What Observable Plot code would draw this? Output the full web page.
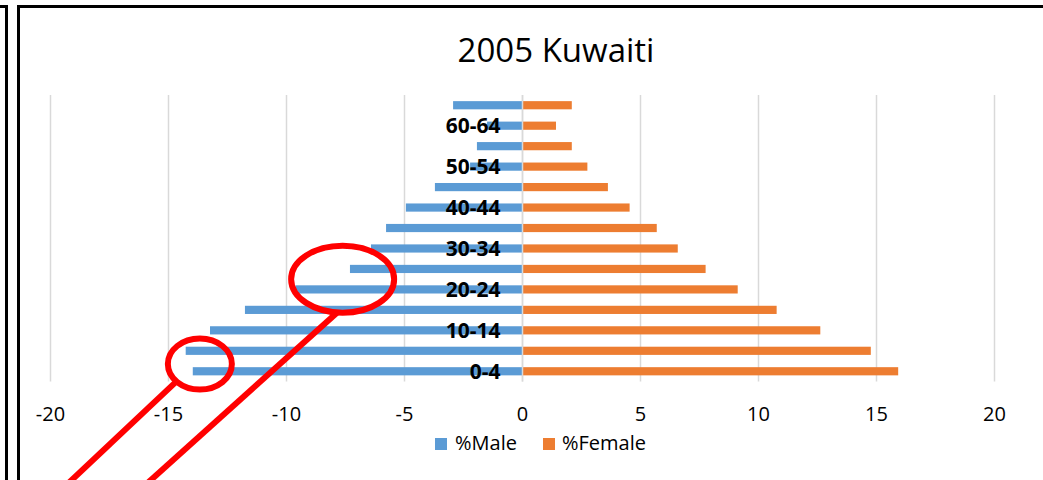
<!DOCTYPE html>
<html><head><meta charset="utf-8">
<script src="https://cdn.jsdelivr.net/npm/d3@7"></script>
<script src="https://cdn.jsdelivr.net/npm/@observablehq/plot@0.6"></script>
<style>
html,body{margin:0;padding:0;background:#fff;overflow:hidden;width:1043px;height:480px;}
#page{position:relative;width:1043px;height:480px;overflow:hidden;font-family:"Open Sans",sans-serif;color:#000;}
#leftbox{position:absolute;left:-200px;top:5px;width:208px;height:600px;border:3px solid #000;box-sizing:border-box;}
#box{position:absolute;left:17px;top:5px;width:1160px;height:600px;border:3px solid #000;box-sizing:border-box;}
#title{position:absolute;left:0;width:1112px;top:33px;text-align:center;font-size:33px;line-height:33px;}
#chart{position:absolute;left:0;top:80px;}
.lg{position:absolute;top:433px;font-size:20px;line-height:20px;white-space:nowrap;}
.sw{position:absolute;top:438px;width:12px;height:12px;}
#overlay{position:absolute;left:0;top:0;pointer-events:none;}
</style>
</head><body>
<div id="page">
  <div id="leftbox"></div>
  <div id="box"></div>
  <div id="title">2005 Kuwaiti</div>
  <div id="chart"></div>
  <div class="sw" id="swM" style="left:435px;background:#5B9BD5"></div>
  <div class="lg" id="lgM" style="left:455px">%Male</div>
  <div class="sw" id="swF" style="left:543px;background:#ED7D31"></div>
  <div class="lg" id="lgF" style="left:562px">%Female</div>
</div>
<script>
// ---- data ----
const ages = ["0-4","5-9","10-14","15-19","20-24","25-29","30-34","35-39","40-44","45-49","50-54","55-59","60-64","65+"];
const male = [-13.95,-14.25,-13.22,-11.74,-9.6,-7.29,-6.4,-5.76,-4.92,-3.69,-2.2,-1.91,-1.48,-2.92];
const female = [15.94,14.78,12.64,10.79,9.14,7.78,6.6,5.71,4.56,3.64,2.77,2.11,1.44,2.11];
const ageLabels = ["0-4","10-14","20-24","30-34","40-44","50-54","60-64"];
const xTicks = [-20,-15,-10,-5,0,5,10,15,20];
const seriesNames = ["%Male","%Female"];
// annotation rings (highlighted areas, in data terms)
const rings = [
  {x: -13.65, between: ["0-4","5-9"], dy: 3, rx: 32, ry: 25.5, startAngle: 137, dir: [-103, 97]},
  {x: -7.6, between: ["20-24","25-29"], dy: 0, rx: 51.5, ry: 33.5, startAngle: 96, dir: [-178, 160]}
];

const rows = [];
ages.forEach((a, i) => {
  rows.push({age: a, sex: seriesNames[0], value: male[i]});
  rows.push({age: a, sex: seriesNames[1], value: female[i]});
});

const svgTop = 80;
const plot = Plot.plot({
  width: 1043,
  height: 346,
  marginLeft: 50,
  marginRight: 49,
  marginTop: 15,
  marginBottom: 44.5,
  style: {fontFamily: "Open Sans", fontSize: "20px", color: "#000", background: "transparent"},
  x: {domain: [-20, 20], label: null},
  y: {domain: ages.slice().reverse(), paddingInner: 0.6, paddingOuter: 0.3, round: false, label: null, axis: null},
  color: {domain: seriesNames, range: ["#5B9BD5", "#ED7D31"]},
  marks: [
    Plot.ruleX(xTicks, {stroke: "#d9d9d9", strokeWidth: 1.5}),
    Plot.barX(rows, {x: "value", y: "age", fill: "sex"}),
    Plot.ruleX([0], {stroke: "#d9d9d9", strokeWidth: 1.5}),
    Plot.axisX({ticks: xTicks, tickSize: 0, tickPadding: 25, tickFormat: d => String(d), fontSize: 20, label: null, fill: "#000"}),
    Plot.text(ageLabels, {x: 0, y: d => d, text: d => d, textAnchor: "end", dx: -22, fontWeight: "bold", fontSize: 21, fill: "#000"})
  ]
});
document.getElementById("chart").appendChild(plot);

// overlay annotations positioned through the plot's scales
const xs = plot.scale("x"), ys = plot.scale("y");
const bw = ys.bandwidth;
const ov = d3.select("#page").append("svg").attr("id", "overlay").attr("width", 1043).attr("height", 480);
rings.forEach(r => {
  const cx = xs.apply(r.x);
  const cy = svgTop + (ys.apply(r.between[0]) + ys.apply(r.between[1])) / 2 + bw / 2 + r.dy;
  ov.append("ellipse").attr("cx", cx).attr("cy", cy).attr("rx", r.rx).attr("ry", r.ry)
    .attr("fill", "none").attr("stroke", "#ff0000").attr("stroke-width", 6);
  const a = r.startAngle * Math.PI / 180;
  const sx = cx + r.rx * Math.cos(a), sy = cy + r.ry * Math.sin(a);
  const t = (500 - sy) / r.dir[1];
  ov.append("line").attr("x1", sx).attr("y1", sy).attr("x2", sx + r.dir[0] * t).attr("y2", 500)
    .attr("stroke", "#ff0000").attr("stroke-width", 6);
});
</script>
</body></html>
